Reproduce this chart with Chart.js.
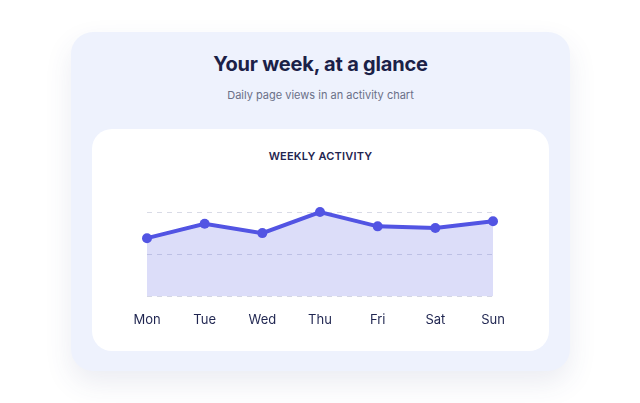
<!DOCTYPE html>
<html>
<head>
<meta charset="utf-8">
<script src="https://cdn.jsdelivr.net/npm/chart.js@4"></script>
<style>
  html, body { margin: 0; padding: 0; background: #fff; width: 640px; height: 403px; overflow: hidden; font-family: Inter, "Noto Sans", sans-serif; }
  .outer { position: absolute; left: 71px; top: 32px; width: 499px; height: 339px; background: #eef2fd; border-radius: 22px; box-shadow: 0 12px 28px rgba(60, 70, 130, 0.10); }
  .title { position: absolute; left: 0; right: 0; top: 20px; text-align: center; font-size: 20px; font-weight: 700; color: #1b2147; letter-spacing: -0.2px; }
  .sub { position: absolute; left: 0; right: 0; top: 56px; text-align: center; font-size: 11px; color: #6b7088; }
  .inner { position: absolute; left: 21px; top: 97px; width: 457px; height: 222px; background: #fff; border-radius: 20px; }
  .label { position: absolute; left: 0; right: 0; top: 20px; text-align: center; font-size: 11px; font-weight: 600; color: #1f2550; letter-spacing: 0.2px; }
  .wrap { position: absolute; left: 15px; top: 61px; width: 426px; height: 154px; }
</style>
</head>
<body>
<div class="outer">
  <div class="title">Your week, at a glance</div>
  <div class="sub">Daily page views in an activity chart</div>
  <div class="inner">
    <div class="label">WEEKLY ACTIVITY</div>
    <div class="wrap"><canvas id="c" width="426" height="154"></canvas></div>
  </div>
</div>
<script>
var days = ['Mon', 'Tue', 'Wed', 'Thu', 'Fri', 'Sat', 'Sun'];
var views = [69, 86, 75, 100, 83, 81, 89];

var ctx = document.getElementById('c').getContext('2d');
var chart = new Chart(ctx, {
    type: 'line',
    data: {
        labels: days,
        datasets: [{
            data: views,
            borderColor: '#5254e3',
            backgroundColor: 'rgba(82, 84, 227, 0.2)',
            fill: 'origin',
            borderWidth: 4,
            pointRadius: 5,
            pointBackgroundColor: '#5254e3',
            pointBorderWidth: 0,
            tension: 0,
            clip: false
        }]
    },
    options: {
        responsive: false,
        animation: false,
        layout: { padding: { left: 40, right: 40, top: 22, bottom: 0 } },
        plugins: { legend: { display: false }, tooltip: { enabled: false } },
        scales: {
            x: {
                offset: false,
                grid: { display: false, drawTicks: false },
                border: { display: false },
                ticks: { padding: 16, color: '#1f2550', font: { family: 'Inter', size: 13 } }
            },
            y: {
                min: 0,
                max: 100,
                ticks: { display: false, stepSize: 50 },
                border: { display: false, dash: [5, 5] },
                grid: { color: '#d9dbe6', drawTicks: false, lineWidth: 1 }
            }
        }
    }
});
</script>
</body>
</html>
